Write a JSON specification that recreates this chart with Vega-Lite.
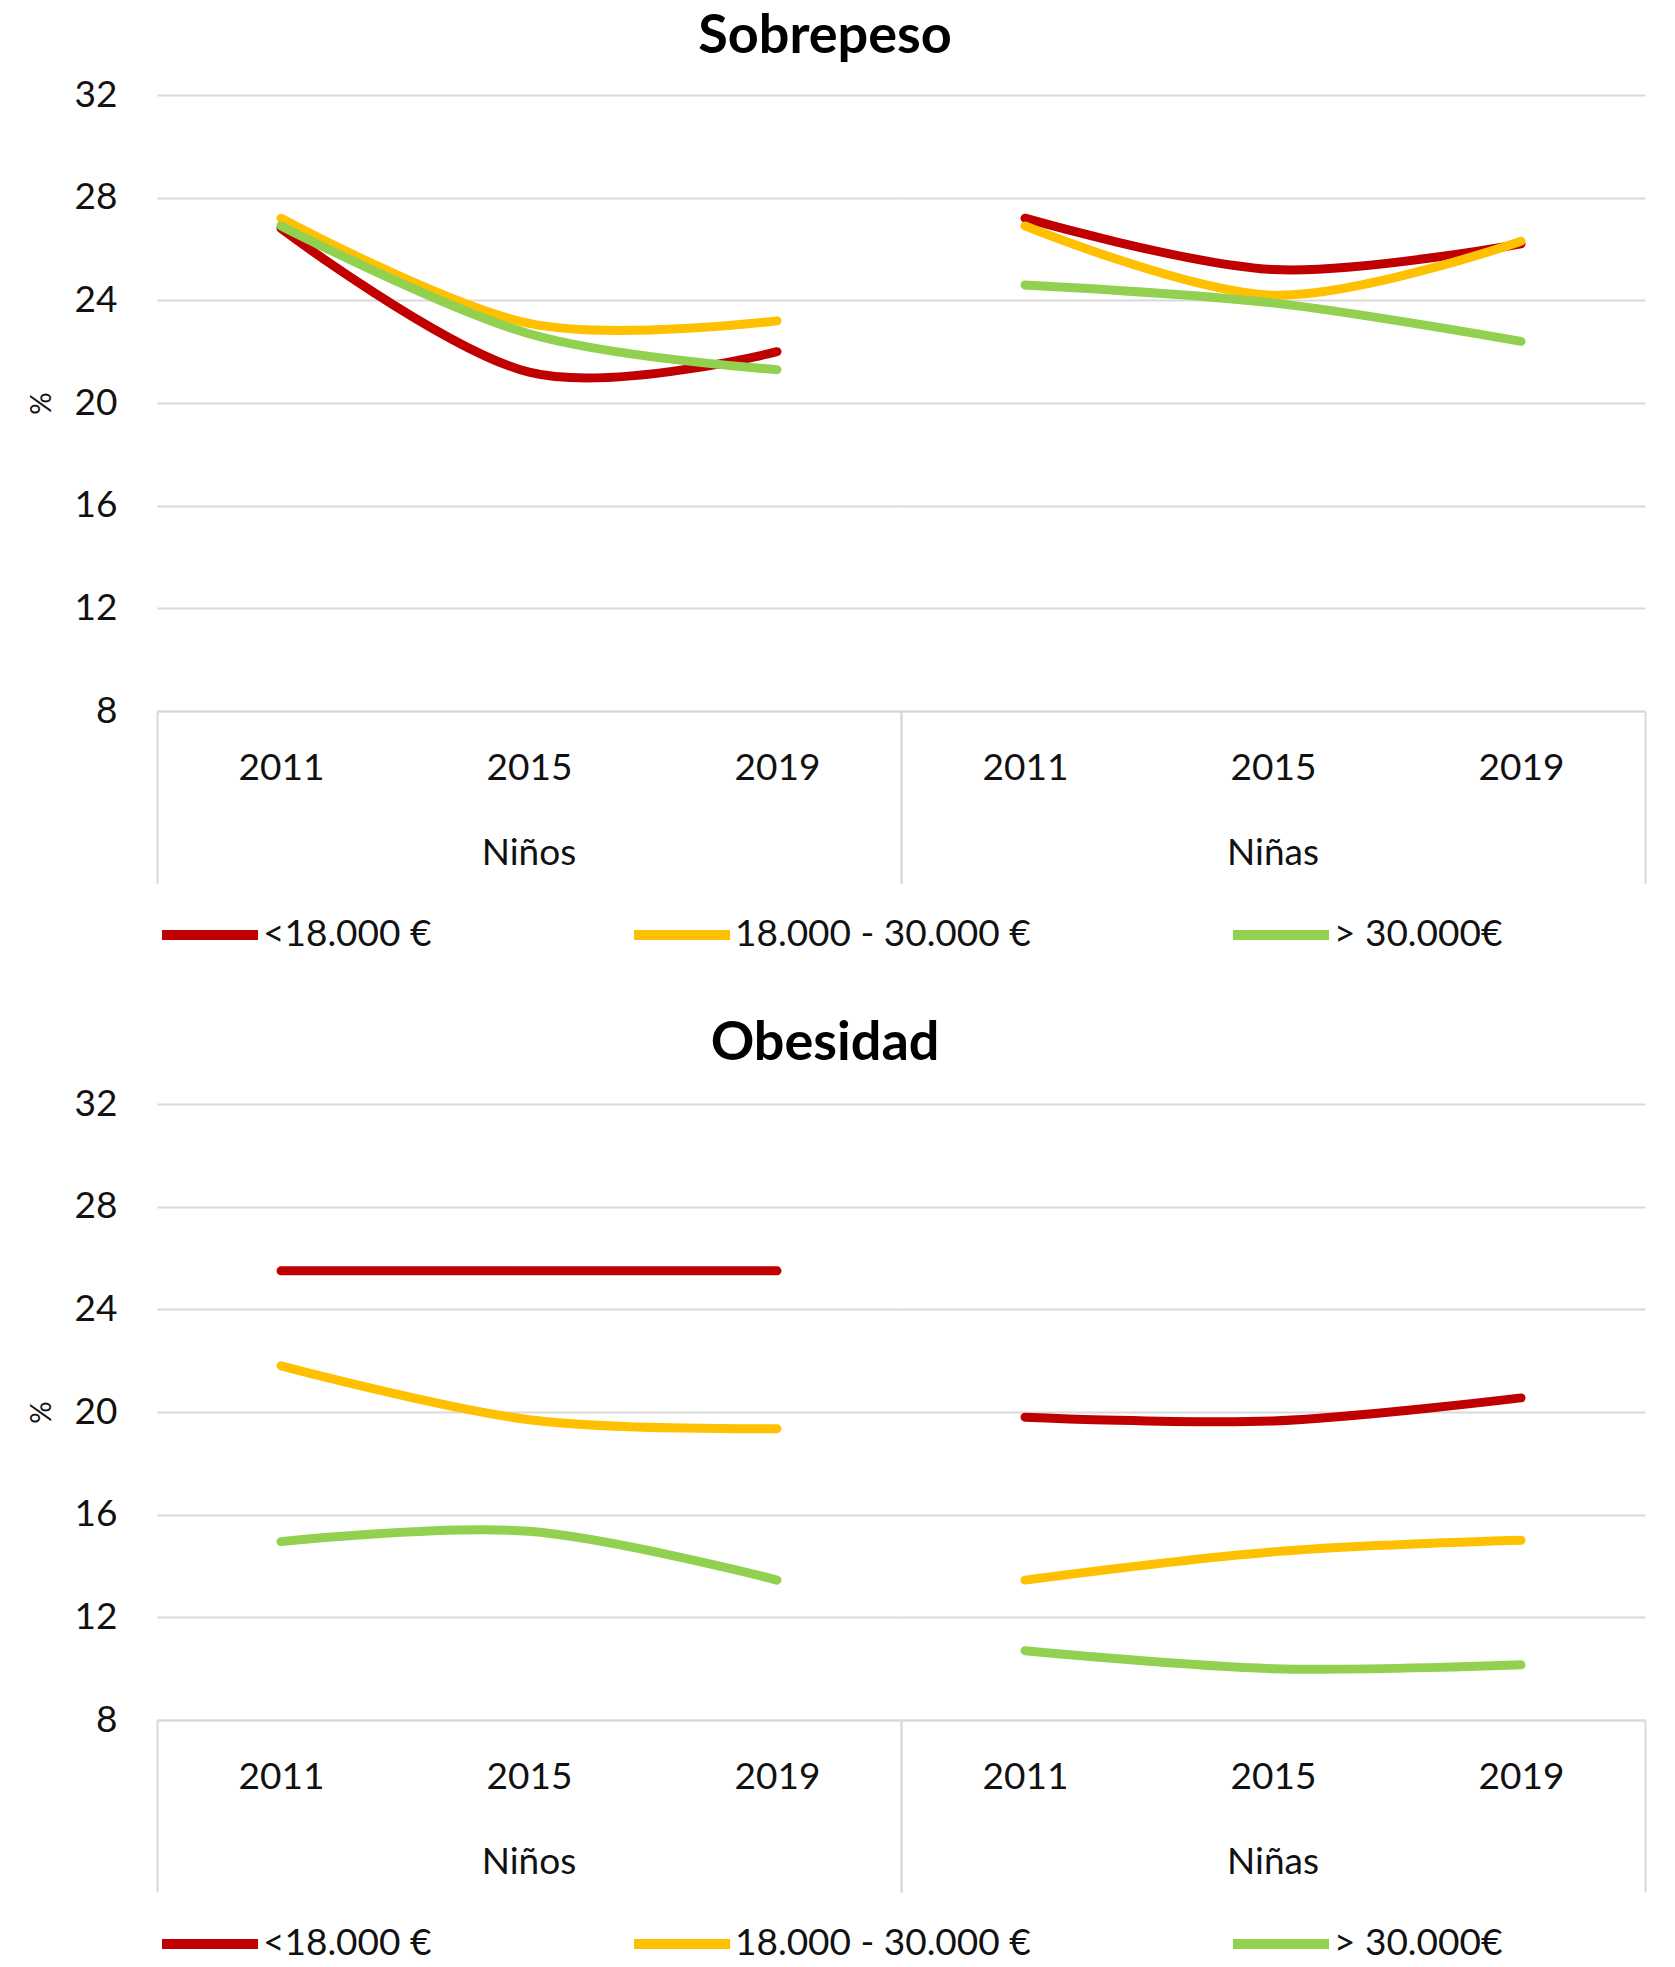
{
  "$schema": "https://vega.github.io/schema/vega-lite/v6.json",
  "background": "white",
  "padding": {"left": 28, "top": 10, "right": 10, "bottom": 5},
  "config": {
    "font": "Lato",
    "view": {"stroke": null},
    "title": {"font": "Lato", "fontWeight": "bold", "fontSize": 54, "color": "#000000"},
    "axis": {"labelFont": "Lato", "labelColor": "#111111", "labelFontSize": 37},
    "header": {"labelFont": "Lato", "labelColor": "#111111", "labelFontSize": 37},
    "legend": {"labelFont": "Lato", "labelColor": "#111111", "labelFontSize": 37, "labelLimit": 0}
  },
  "datasets": {
    "sobrepeso": [
      {"sexo": "Niños", "anio": "2011", "renta": "<18.000 €", "pct": 26.8},
      {"sexo": "Niños", "anio": "2015", "renta": "<18.000 €", "pct": 21.2},
      {"sexo": "Niños", "anio": "2019", "renta": "<18.000 €", "pct": 22.0},
      {"sexo": "Niños", "anio": "2011", "renta": "18.000 - 30.000 €", "pct": 27.2},
      {"sexo": "Niños", "anio": "2015", "renta": "18.000 - 30.000 €", "pct": 23.1},
      {"sexo": "Niños", "anio": "2019", "renta": "18.000 - 30.000 €", "pct": 23.2},
      {"sexo": "Niños", "anio": "2011", "renta": "> 30.000€", "pct": 26.9},
      {"sexo": "Niños", "anio": "2015", "renta": "> 30.000€", "pct": 22.7},
      {"sexo": "Niños", "anio": "2019", "renta": "> 30.000€", "pct": 21.3},
      {"sexo": "Niñas", "anio": "2011", "renta": "<18.000 €", "pct": 27.2},
      {"sexo": "Niñas", "anio": "2015", "renta": "<18.000 €", "pct": 25.2},
      {"sexo": "Niñas", "anio": "2019", "renta": "<18.000 €", "pct": 26.2},
      {"sexo": "Niñas", "anio": "2011", "renta": "18.000 - 30.000 €", "pct": 26.9},
      {"sexo": "Niñas", "anio": "2015", "renta": "18.000 - 30.000 €", "pct": 24.2},
      {"sexo": "Niñas", "anio": "2019", "renta": "18.000 - 30.000 €", "pct": 26.3},
      {"sexo": "Niñas", "anio": "2011", "renta": "> 30.000€", "pct": 24.6},
      {"sexo": "Niñas", "anio": "2015", "renta": "> 30.000€", "pct": 23.9},
      {"sexo": "Niñas", "anio": "2019", "renta": "> 30.000€", "pct": 22.4}
    ],
    "obesidad": [
      {"sexo": "Niños", "anio": "2011", "renta": "<18.000 €", "pct": 25.5},
      {"sexo": "Niños", "anio": "2015", "renta": "<18.000 €", "pct": 25.5},
      {"sexo": "Niños", "anio": "2019", "renta": "<18.000 €", "pct": 25.5},
      {"sexo": "Niños", "anio": "2011", "renta": "18.000 - 30.000 €", "pct": 21.8},
      {"sexo": "Niños", "anio": "2015", "renta": "18.000 - 30.000 €", "pct": 19.7},
      {"sexo": "Niños", "anio": "2019", "renta": "18.000 - 30.000 €", "pct": 19.35},
      {"sexo": "Niños", "anio": "2011", "renta": "> 30.000€", "pct": 14.95},
      {"sexo": "Niños", "anio": "2015", "renta": "> 30.000€", "pct": 15.35},
      {"sexo": "Niños", "anio": "2019", "renta": "> 30.000€", "pct": 13.45},
      {"sexo": "Niñas", "anio": "2011", "renta": "<18.000 €", "pct": 19.8},
      {"sexo": "Niñas", "anio": "2015", "renta": "<18.000 €", "pct": 19.65},
      {"sexo": "Niñas", "anio": "2019", "renta": "<18.000 €", "pct": 20.55},
      {"sexo": "Niñas", "anio": "2011", "renta": "18.000 - 30.000 €", "pct": 13.45},
      {"sexo": "Niñas", "anio": "2015", "renta": "18.000 - 30.000 €", "pct": 14.55},
      {"sexo": "Niñas", "anio": "2019", "renta": "18.000 - 30.000 €", "pct": 15.0},
      {"sexo": "Niñas", "anio": "2011", "renta": "> 30.000€", "pct": 10.7},
      {"sexo": "Niñas", "anio": "2015", "renta": "> 30.000€", "pct": 10.0},
      {"sexo": "Niñas", "anio": "2019", "renta": "> 30.000€", "pct": 10.15}
    ]
  },
  "spacing": 62,
  "resolve": {"scale": {"color": "independent"}},
  "vconcat": [
    {
      "data": {"name": "sobrepeso"},
      "title": {"text": "Sobrepeso", "anchor": "middle", "frame": "bounds", "offset": 12, "dx": -12},
      "facet": {"column": {"field": "sexo", "type": "nominal", "sort": ["Niños", "Niñas"],
        "header": {"title": null, "labelOrient": "bottom", "labelPadding": -48}}},
      "spacing": 0,
      "spec": {
        "width": 744,
        "height": 616,
        "mark": {"type": "line", "interpolate": "cardinal", "strokeWidth": 9, "strokeCap": "round"},
        "encoding": {
          "x": {"field": "anio", "type": "nominal", "sort": ["2011", "2015", "2019"],
            "scale": {"type": "band", "paddingInner": 0, "paddingOuter": 0},
            "axis": {"title": null, "labelAngle": 0, "labelPadding": -133, "tickBand": "extent", "tickSize": 172,
              "tickColor": "#D9D9D9", "tickWidth": 2,
              "tickOpacity": {"condition": {"test": "datum.value === '2011' || datum.value === '2015'", "value": 0}, "value": 1},
              "domainColor": "#D9D9D9", "domainWidth": 2, "grid": false}},
          "y": {"field": "pct", "type": "quantitative",
            "scale": {"domain": [8, 32], "nice": false, "zero": false},
            "axis": {"values": [8, 12, 16, 20, 24, 28, 32], "title": "%", "titleFontSize": 28, "titleFontWeight": "normal", "titleColor": "#111111", "titlePadding": 18,
              "labelPadding": 40, "ticks": false, "domain": false, "gridColor": "#D9D9D9", "gridWidth": 2}},
          "color": {"field": "renta", "type": "nominal",
            "scale": {"domain": ["<18.000 €", "18.000 - 30.000 €", "> 30.000€"], "range": ["#C00000", "#FFC000", "#92D050"]},
            "legend": {"orient": "bottom", "direction": "horizontal", "title": null, "symbolType": "stroke", "symbolSize": 9216, "symbolStrokeWidth": 10, "labelOffset": 0, "columnPadding": 182, "offset": -2}}
        }
      }
    },
    {
      "data": {"name": "obesidad"},
      "title": {"text": "Obesidad", "anchor": "middle", "frame": "bounds", "offset": 14, "dx": -12},
      "facet": {"column": {"field": "sexo", "type": "nominal", "sort": ["Niños", "Niñas"],
        "header": {"title": null, "labelOrient": "bottom", "labelPadding": -48}}},
      "spacing": 0,
      "spec": {
        "width": 744,
        "height": 616,
        "mark": {"type": "line", "interpolate": "cardinal", "strokeWidth": 9, "strokeCap": "round"},
        "encoding": {
          "x": {"field": "anio", "type": "nominal", "sort": ["2011", "2015", "2019"],
            "scale": {"type": "band", "paddingInner": 0, "paddingOuter": 0},
            "axis": {"title": null, "labelAngle": 0, "labelPadding": -133, "tickBand": "extent", "tickSize": 172,
              "tickColor": "#D9D9D9", "tickWidth": 2,
              "tickOpacity": {"condition": {"test": "datum.value === '2011' || datum.value === '2015'", "value": 0}, "value": 1},
              "domainColor": "#D9D9D9", "domainWidth": 2, "grid": false}},
          "y": {"field": "pct", "type": "quantitative",
            "scale": {"domain": [8, 32], "nice": false, "zero": false},
            "axis": {"values": [8, 12, 16, 20, 24, 28, 32], "title": "%", "titleFontSize": 28, "titleFontWeight": "normal", "titleColor": "#111111", "titlePadding": 18,
              "labelPadding": 40, "ticks": false, "domain": false, "gridColor": "#D9D9D9", "gridWidth": 2}},
          "color": {"field": "renta", "type": "nominal",
            "scale": {"domain": ["<18.000 €", "18.000 - 30.000 €", "> 30.000€"], "range": ["#C00000", "#FFC000", "#92D050"]},
            "legend": {"orient": "bottom", "direction": "horizontal", "title": null, "symbolType": "stroke", "symbolSize": 9216, "symbolStrokeWidth": 10, "labelOffset": 0, "columnPadding": 182, "offset": -2}}
        }
      }
    }
  ]
}
